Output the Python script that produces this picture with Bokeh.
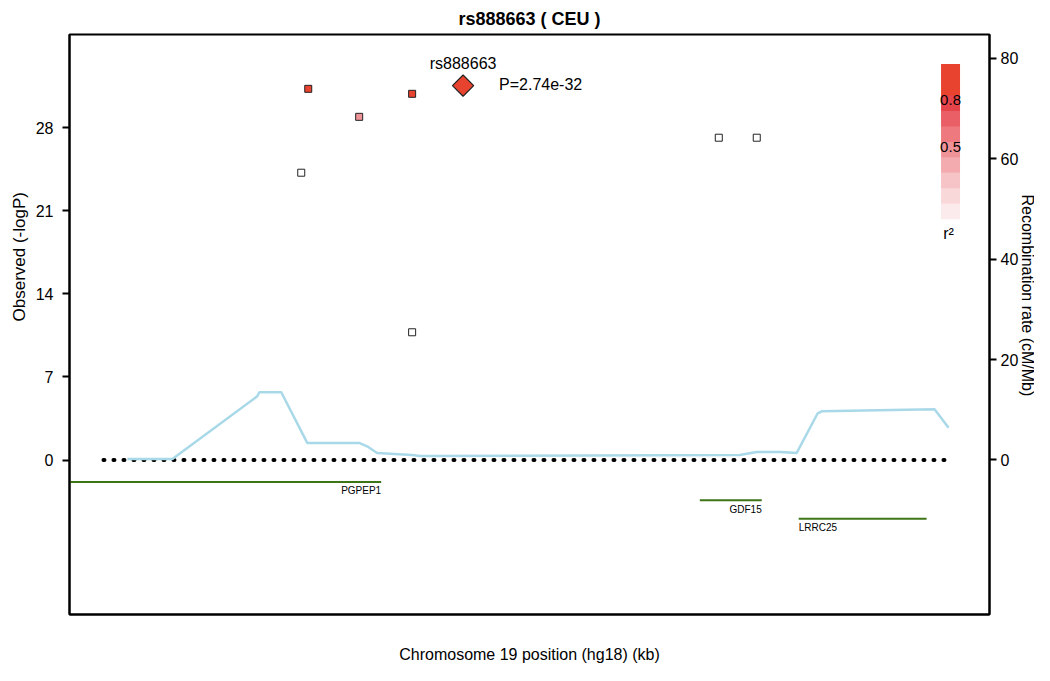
import math
from bokeh.plotting import figure
from bokeh.models import Range1d, LinearAxis, FixedTicker, ColumnDataSource, Label, Title
from bokeh.embed import file_html
from bokeh.resources import INLINE

FONT = "Liberation Sans"

# ---------------- data ----------------
title_text = "rs888663 ( CEU )"
lead_snp = "rs888663"
lead_pos_kb = 18339.4
lead_pvalue = 2.74e-32

snp_pos_kb = [18323.2, 18323.9, 18329.0, 18334.3, 18334.3, 18365.0, 18368.8]
snp_logp = [24.22, 31.29, 28.93, 30.87, 10.77, 27.17, 27.17]
snp_r2 = [None, 0.95, 0.45, 0.95, None, None, None]

recomb_pos_kb = [18305.8, 18310.3, 18318.8, 18319.0, 18321.2, 18323.8, 18329.0,
                 18329.9, 18330.8, 18334.3, 18335.1, 18367.1, 18368.8, 18371.1,
                 18372.8, 18374.9, 18375.3, 18386.6, 18388.0]
recomb_rate = [0.2, 0.2, 12.7, 13.5, 13.5, 3.4, 3.4, 2.6, 1.4, 1.0, 0.8, 1.0,
               1.6, 1.6, 1.4, 9.3, 9.7, 10.1, 6.4]

gene_names = ["PGPEP1", "GDF15", "LRRC25"]
gene_start_kb = [18295.0, 18363.1, 18373.0]
gene_end_kb = [18331.2, 18369.3, 18385.8]
gene_strand = ["+", "+", "-"]
gene_row = [1, 2, 3]

r2_bin_lower = [0.0, 0.1, 0.2, 0.3, 0.4, 0.5, 0.6, 0.7, 0.8, 0.9]
r2_bin_colors = ["#FCEBEC", "#F9D8DA", "#F6C3C6", "#F3ABAF", "#F09398",
                 "#EE7A80", "#EA5E65", "#E5444B", "#E8432E", "#E8432E"]
r2_legend_ticks = [0.5, 0.8]

x_start_kb, x_end_kb = 18300.0, 18392.1
logp_min, logp_max = -13.02, 35.87
recomb_min, recomb_max = -30.79, 84.77
logp_ticks = [0, 7, 14, 21, 28]
recomb_ticks = [0, 20, 40, 60, 80]
baseline_start_kb, baseline_end_kb = 18303.4, 18388.1

# ---------------- layout ----------------
W, H = 1034, 665
ML, MR, MT, MB = 69, 44, 33, 50
FW, FH = W - ML - MR, H - MT - MB
kb_per_px = (x_end_kb - x_start_kb) / FW
lp_per_px = (logp_max - logp_min) / FH

p = figure(width=W, height=H, output_backend="svg", toolbar_location=None,
           x_range=Range1d(x_start_kb, x_end_kb), y_range=Range1d(logp_min, logp_max),
           min_border_left=ML, min_border_right=MR, min_border_top=MT, min_border_bottom=MB)
p.extra_y_ranges = {"recomb": Range1d(recomb_min, recomb_max)}
p.grid.visible = False
p.outline_line_color = "black"
p.outline_line_width = 2
p.background_fill_color = "white"
p.border_fill_color = "white"

p.title.text = title_text
p.title.align = "center"
p.title.text_font = FONT
p.title.text_font_size = "18px"
p.title.text_font_style = "bold"
p.title.text_color = "black"
p.title.standoff = 12

# axes
p.yaxis.ticker = FixedTicker(ticks=logp_ticks)
p.xaxis.ticker = FixedTicker(ticks=[])
p.xaxis.axis_label = "Chromosome 19 position (hg18) (kb)"
p.xaxis.axis_label_text_font = FONT
p.xaxis.axis_label_text_font_size = "16px"
p.xaxis.axis_label_text_font_style = "normal"
p.xaxis.axis_label_text_color = "black"
p.xaxis.axis_label_standoff = 31
p.xaxis.major_label_text_font_size = "0px"
p.xaxis.major_tick_line_color = None
p.xaxis.minor_tick_line_color = None
p.xaxis.axis_line_width = 2

ry = LinearAxis(y_range_name="recomb", ticker=FixedTicker(ticks=recomb_ticks))
p.add_layout(ry, "right")
for ax in (p.yaxis[0], ry):
    ax.major_tick_out = 7
    ax.major_tick_in = 0
    ax.major_tick_line_width = 2
    ax.minor_tick_line_color = None
    ax.axis_line_width = 2
    ax.axis_label_standoff = 0
    ax.major_label_text_font = FONT
    ax.major_label_text_font_size = "16px"
    ax.major_label_text_color = "black"
p.yaxis[0].major_label_standoff = 9
ry.major_label_standoff = 4

# axis titles as side titles (placed like the reference)
p.add_layout(Title(text="Observed (-logP)", align="left", offset=293, standoff=8,
                   text_font=FONT, text_font_size="17px", text_font_style="normal",
                   text_color="black"), "left")
p.add_layout(Title(text="Recombination rate (cM/Mb)", align="left", offset=160, standoff=-6,
                   text_font=FONT, text_font_size="16px", text_font_style="normal",
                   text_color="black"), "right")

# baseline
p.line([baseline_start_kb, baseline_end_kb], [0, 0], line_color="black", line_width=4,
       line_dash="1 9", line_cap="round")

# recombination
p.line(recomb_pos_kb, recomb_rate, y_range_name="recomb", line_color="#A9D9E8", line_width=2.5)

# genes
gene_y = [-0.3 - 1.55 * r for r in gene_row]
for name, s, e, strand, gy in zip(gene_names, gene_start_kb, gene_end_kb, gene_strand, gene_y):
    p.line([s, e], [gy, gy], line_color="#3E7418", line_width=2)
    lx, al = (e, "right") if strand == "+" else (s, "left")
    p.add_layout(Label(x=lx, y=gy - 9 * lp_per_px, text=name, text_align=al,
                       text_baseline="middle", text_font=FONT, text_font_size="10px",
                       text_color="black"))

def r2_color(r):
    if r is None:
        return "white"
    return r2_bin_colors[min(int(r * 10), 9)]

src = ColumnDataSource(dict(x=snp_pos_kb, y=snp_logp, c=[r2_color(r) for r in snp_r2]))
p.scatter("x", "y", source=src, marker="square", size=7, fill_color="c",
          line_color="#222222", line_width=1)

lead_logp = -math.log10(lead_pvalue)
p.scatter([lead_pos_kb], [lead_logp], marker="square", angle=math.pi / 4, size=15,
          fill_color=r2_color(1.0), line_color="#222222", line_width=1.2)
p.add_layout(Label(x=lead_pos_kb, y=lead_logp + 22 * lp_per_px, text=lead_snp,
                   text_align="center", text_baseline="middle", text_font=FONT,
                   text_font_size="16px", text_color="black"))
p.add_layout(Label(x=lead_pos_kb + 36 * kb_per_px, y=lead_logp + 1 * lp_per_px,
                   text="P=%.2e" % lead_pvalue, text_align="left", text_baseline="middle",
                   text_font=FONT, text_font_size="16px", text_color="black"))

# r2 legend
leg_x = x_start_kb + 882 * kb_per_px
leg_top = logp_max - 30 * lp_per_px
bin_h = 15.5
n = len(r2_bin_lower)
leg_y = [leg_top - (n - 1 - i + 0.5) * bin_h * lp_per_px for i in range(n)]
p.rect(x=[leg_x] * n, y=leg_y, width=19, height=bin_h + 0.5, width_units="screen",
       height_units="screen", fill_color=r2_bin_colors, line_color=None)
for t in r2_legend_ticks:
    ty = leg_top - (1 - t) * n * bin_h * lp_per_px
    p.add_layout(Label(x=leg_x, y=ty, text="%.1f" % t, text_align="center",
                       text_baseline="top", text_font=FONT, text_font_size="15px",
                       text_color="black"))
p.add_layout(Label(x=leg_x - 2 * kb_per_px, y=leg_top - (n * bin_h + 6) * lp_per_px,
                   text="r\u00b2", text_align="center", text_baseline="top",
                   text_font=FONT, text_font_size="16px", text_color="black"))

open("out.html", "w").write(file_html(p, INLINE))
